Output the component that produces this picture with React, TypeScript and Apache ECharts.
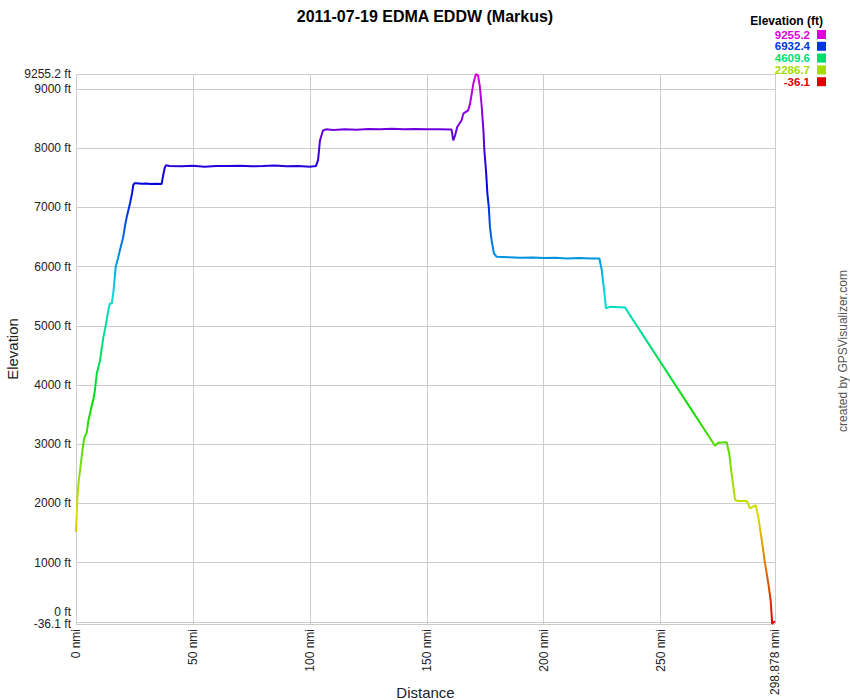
import React, { useEffect, useRef } from "react";
import * as echarts from "echarts";

const chartTitle = "2011-07-19 EDMA EDDW (Markus)";
const creditText = "created by GPSVisualizer.com";

const distNmi = [
  0, 0.3, 0.6, 1.2, 1.7, 2.3, 3.1, 3.5, 4.6, 5.3, 6.0, 7.0, 7.4, 8.1, 8.9, 10.3, 11.0, 11.7, 12.5, 13.1,
  14.1, 14.5, 15.3, 16.0, 17.0, 18.0, 18.8, 20.2, 21.0, 21.7, 23.1, 24.0, 24.5, 25.0, 26.0, 28, 30, 32, 34,
  36.6, 37.3, 38.0, 38.5, 40, 45, 50, 55, 60, 65, 70, 75, 80, 85, 90, 95, 100, 102.6, 103.5, 104.3, 105.6,
  106.9, 110, 115, 120, 125, 130, 135, 140, 145, 150, 155, 160.6, 161.3, 162.1, 163.0, 164.9, 165.6, 167.7,
  168.5, 169.9, 171.0, 171.9, 172.7, 173.5, 174.2, 174.6, 175.3, 175.9, 176.5, 177.0, 177.7, 178.7, 179.9,
  185, 190, 195, 200, 205, 210, 215, 220, 223.8, 224.8, 225.8, 226.6, 228.3, 234.7, 273.2, 274.6, 278.2,
  279.3, 280.3, 281.8, 283.2, 286.8, 288.2, 289.6, 290.6, 291.7, 293.2, 294.6, 296.0, 297.0, 297.7, 298.1,
  298.878,
];
const elevFt = [
  1520, 1800, 2100, 2400, 2550, 2750, 3000, 3100, 3200, 3400, 3520, 3700, 3750, 3920, 4200, 4420, 4620, 4810,
  4960, 5100, 5320, 5380, 5380, 5580, 6000, 6150, 6280, 6500, 6700, 6840, 7070, 7250, 7380, 7410, 7410, 7400,
  7405, 7395, 7400, 7395, 7550, 7680, 7715, 7700, 7695, 7705, 7690, 7700, 7700, 7705, 7695, 7700, 7710, 7695,
  7700, 7690, 7700, 7800, 8130, 8300, 8320, 8310, 8320, 8315, 8325, 8320, 8330, 8320, 8325, 8320, 8320, 8316,
  8135, 8220, 8360, 8473, 8586, 8642, 8755, 9093, 9255.2, 9233, 9036, 8698, 8304, 7967, 7629, 7236, 7010,
  6672, 6448, 6223, 6166, 6160, 6150, 6155, 6145, 6150, 6140, 6145, 6140, 6139, 5942, 5604, 5295, 5322, 5312,
  2976, 3027, 3033, 2848, 2510, 2059, 2042, 2042, 1919, 1946, 1975, 1778, 1384, 991, 653, 371, -36.1, -12, 10,
];

const yMin = -36.1;
const yMax = 9255.2;
const xMax = 298.878;
const yGridValues = [-36.1, 0, 1000, 2000, 3000, 4000, 5000, 6000, 7000, 8000, 9000, 9255.2];
const yLabelValues = [-36.1, 1000, 2000, 3000, 4000, 5000, 6000, 7000, 8000, 9000, 9255.2];
const yZeroLabel = [0];
const xTickValues = [0, 50, 100, 150, 200, 250, 298.878];
const legendTitle = "Elevation (ft)";
const legendValues = [9255.2, 6932.4, 4609.6, 2286.7, -36.1];

const FONT = "'Liberation Sans', Arial, Helvetica, sans-serif";

function hsvColor(h: number): string {
  const v = 221;
  const hh = ((h % 360) + 360) % 360;
  const sector = Math.floor(hh / 60);
  const f = hh / 60 - sector;
  const q = Math.round(v * (1 - f));
  const t = Math.round(v * f);
  let r = 0, g = 0, b = 0;
  switch (sector) {
    case 0: r = v; g = t; b = 0; break;
    case 1: r = q; g = v; b = 0; break;
    case 2: r = 0; g = v; b = t; break;
    case 3: r = 0; g = q; b = v; break;
    case 4: r = t; g = 0; b = v; break;
    default: r = v; g = 0; b = q; break;
  }
  const hx = (n: number) => n.toString(16).padStart(2, "0");
  return "#" + hx(r) + hx(g) + hx(b);
}

function colorForValue(val: number): string {
  return hsvColor((300 * (val - yMin)) / (yMax - yMin));
}

export default function App() {
  const ref = useRef<HTMLDivElement>(null);
  useEffect(() => {
    if (!ref.current) return;
    const chart = echarts.init(ref.current, null, { renderer: "svg" });
    const data = distNmi.map((d, i) => [d, elevFt[i]]);
    const gradient: string[] = [];
    for (let h = 0; h <= 300; h += 10) gradient.push(hsvColor(h));

    const graphics: any[] = [
      {
        type: "text",
        x: 823,
        y: 21,
        style: {
          text: legendTitle,
          align: "right",
          verticalAlign: "middle",
          fill: "#000",
          font: `bold 12px ${FONT}`,
        },
      },
      {
        type: "text",
        x: 843,
        y: 351,
        rotation: Math.PI / 2,
        style: {
          text: creditText,
          align: "center",
          verticalAlign: "middle",
          fill: "#555",
          font: `12px ${FONT}`,
        },
      },
    ];
    legendValues.forEach((v, i) => {
      const cy = 34.5 + i * 11.8;
      const c = colorForValue(v);
      graphics.push({
        type: "text",
        x: 810,
        y: cy,
        style: {
          text: String(v),
          align: "right",
          verticalAlign: "middle",
          fill: c,
          font: `bold 11.5px ${FONT}`,
        },
      });
      graphics.push({
        type: "rect",
        shape: { x: 817, y: cy - 4.5, width: 9, height: 9 },
        style: { fill: c },
      });
    });

    const labelBase = {
      margin: 5,
      fontSize: 12,
      color: "#222",
      fontFamily: FONT,
      showMinLabel: true,
      showMaxLabel: true,
      hideOverlap: false,
    };

    chart.setOption({
      animation: false,
      backgroundColor: "#fff",
      title: {
        text: chartTitle,
        left: "center",
        top: 3,
        textStyle: { fontSize: 16, fontWeight: "bold", color: "#000", fontFamily: FONT },
      },
      grid: { left: 76, right: 75, top: 74, bottom: 76, containLabel: false, outerBoundsMode: "none" },
      xAxis: {
        type: "value",
        min: 0,
        max: xMax,
        name: "Distance",
        nameLocation: "middle",
        nameGap: 61,
        nameMoveOverlap: false,
        nameTextStyle: { fontSize: 15, color: "#222", fontFamily: FONT },
        axisLine: { show: false },
        axisTick: { show: false, customValues: xTickValues },
        axisLabel: {
          ...labelBase,
          customValues: xTickValues,
          rotate: 90,
          formatter: (v: number) => `${v} nmi`,
        },
        splitLine: { show: true, lineStyle: { color: "#cccccc", width: 1 } },
      },
      yAxis: [
        {
          type: "value",
          min: yMin,
          max: yMax,
          name: "Elevation",
          nameLocation: "middle",
          nameGap: 56,
          nameMoveOverlap: false,
          nameTextStyle: { fontSize: 15, color: "#222", fontFamily: FONT },
          axisLine: { show: false },
          axisTick: { show: false, customValues: yGridValues },
          axisLabel: {
            ...labelBase,
            customValues: yLabelValues,
            formatter: (v: number) => `${v} ft`,
          },
          splitLine: { show: true, lineStyle: { color: "#cccccc", width: 1 } },
        },
        {
          type: "value",
          position: "left",
          min: yMin,
          max: yMax,
          axisLine: { show: false },
          axisTick: { show: false, customValues: yZeroLabel },
          splitLine: { show: false },
          axisLabel: {
            ...labelBase,
            customValues: yZeroLabel,
            verticalAlign: "bottom",
            lineHeight: 20,
            formatter: (v: number) => `${v} ft`,
          },
        },
      ],
      visualMap: {
        show: false,
        type: "continuous",
        min: yMin,
        max: yMax,
        dimension: 1,
        seriesIndex: 0,
        inRange: { color: gradient },
      },
      series: [
        {
          type: "line",
          data,
          xAxisIndex: 0,
          yAxisIndex: 0,
          showSymbol: false,
          symbol: "none",
          lineStyle: { width: 2 },
        },
      ],
      graphic: graphics,
    });
    return () => chart.dispose();
  }, []);
  return (
    <div
      ref={ref}
      style={{ position: "fixed", left: 0, top: 0, width: 850, height: 700, background: "#fff" }}
    />
  );
}
